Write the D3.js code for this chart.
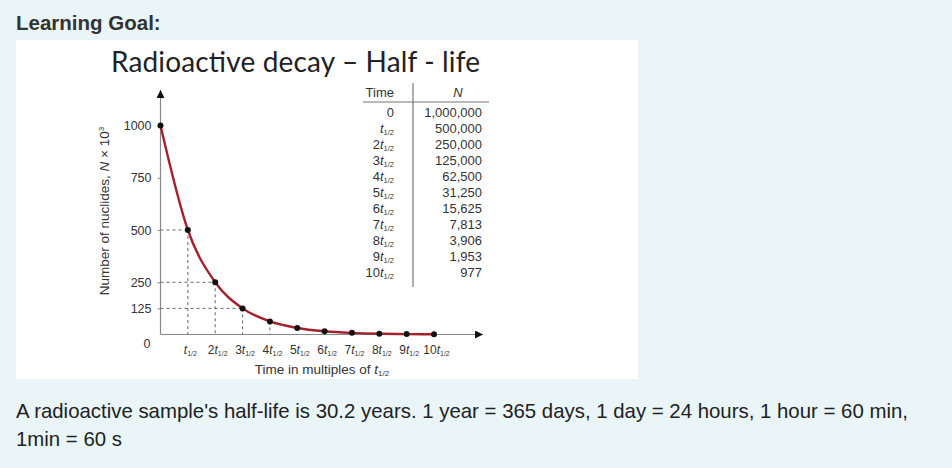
<!DOCTYPE html>
<html>
<head>
<meta charset="utf-8">
<script src="https://cdn.jsdelivr.net/npm/d3@7"></script>
<style>
  body { margin: 0; background: #e9f5f7; }
  svg { display: block; }
</style>
</head>
<body>
<svg id="chart" width="952" height="468"></svg>
<script>
// data (N in thousands vs time in half-lives)
var halfLives = [0, 1, 2, 3, 4, 5, 6, 7, 8, 9, 10];
var nuclides = [1000000, 500000, 250000, 125000, 62500, 31250, 15625, 7813, 3906, 1953, 977];
var yTicks = [0, 125, 250, 500, 750, 1000];
var timeLabels = ["0", "", "2", "3", "4", "5", "6", "7", "8", "9", "10"];
var guideSteps = [1, 2, 3];

var data = halfLives.map((t, i) => ({t: t, n: nuclides[i] / 1000}));

var svg = d3.select("#chart");
var sans = "'Liberation Sans', Arial, sans-serif";

svg.append("text")
    .attr("x", 16).attr("y", 30)
    .attr("font-family", sans).attr("font-weight", "bold")
    .attr("font-size", 20.5).attr("fill", "#333")
    .text("Learning Goal:");

// white picture box
svg.append("rect")
    .attr("x", 16).attr("y", 40)
    .attr("width", 622).attr("height", 339)
    .attr("fill", "#fff");

svg.append("text")
    .attr("x", 111).attr("y", 72)
    .attr("font-family", "Lato, sans-serif")
    .attr("font-size", 28).attr("fill", "#222")
    .attr("textLength", 369)
    .text("Radioactive decay \u2013 Half - life");

// scales
var x = d3.scaleLinear().domain([0, 10]).range([160.5, 434]);
var y = d3.scaleLinear().domain([0, 1000]).range([334.5, 125.5]);

var g = svg.append("g");

// axes
var yAxis = d3.axisLeft(y).tickValues(yTicks).tickSize(3).tickPadding(6).tickFormat(d3.format("d"));
var yg = g.append("g").attr("transform", `translate(${x(0)},0)`).call(yAxis);
yg.select(".domain").remove();
yg.selectAll("line").attr("stroke", "#888");
yg.selectAll("text").attr("font-family", sans).attr("font-size", 12.5).attr("fill", "#333");
yg.selectAll(".tick").filter(d => d === 0).select("line").remove();
yg.selectAll(".tick").filter(d => d === 0).select("text").attr("dy", "1.0em").attr("x", -10);

var xAxis = d3.axisBottom(x).tickValues(halfLives.slice(1)).tickSize(0).tickPadding(9)
    .tickFormat(() => "");
var xg = g.append("g").attr("transform", `translate(0,${y(0)})`).call(xAxis);
xg.select(".domain").remove();
xg.selectAll(".tick text").each(function(d) {
  var t = d3.select(this)
      .attr("font-family", sans).attr("font-size", 12).attr("fill", "#333")
      .attr("dy", "0.9em").attr("dx", 2);
  t.append("tspan").text(timeLabels[d]);
  t.append("tspan").attr("font-style", "italic").text("t");
  t.append("tspan").attr("font-size", 7).attr("dy", 2).text("1/2");
});

// axis lines with arrows
svg.append("defs").append("marker")
    .attr("id", "arrow").attr("viewBox", "0 0 10 10")
    .attr("refX", 10).attr("refY", 5)
    .attr("markerWidth", 10).attr("markerHeight", 8)
    .attr("markerUnits", "userSpaceOnUse")
    .attr("orient", "auto")
  .append("path").attr("d", "M0,0L10,5L0,10Z").attr("fill", "#111");

g.append("line")
    .attr("x1", x(0)).attr("x2", x(0))
    .attr("y1", y(0)).attr("y2", 90)
    .attr("stroke", "#888").attr("stroke-width", 1.2)
    .attr("marker-end", "url(#arrow)");
g.append("line")
    .attr("x1", x(0)).attr("x2", 483)
    .attr("y1", y(0)).attr("y2", y(0))
    .attr("stroke", "#888").attr("stroke-width", 1.2)
    .attr("marker-end", "url(#arrow)");

// dashed guides
var dash = g.append("g").attr("stroke", "#666").attr("stroke-width", 1)
    .attr("stroke-dasharray", "3,3");
guideSteps.forEach(function(i) {
  dash.append("line")
      .attr("x1", x(0)).attr("x2", x(data[i].t))
      .attr("y1", y(data[i].n)).attr("y2", y(data[i].n));
});
[1, 2, 3, 4].forEach(function(i) {
  dash.append("line")
      .attr("x1", x(data[i].t)).attr("x2", x(data[i].t))
      .attr("y1", y(data[i].n)).attr("y2", y(0));
});

// curve
var line = d3.line().x(d => x(d.t)).y(d => y(d.n)).curve(d3.curveMonotoneX);
g.append("path")
    .datum(data)
    .attr("d", line)
    .attr("fill", "none")
    .attr("stroke", "#a1212c")
    .attr("stroke-width", 2.4);

g.selectAll(".dot")
    .data(data)
  .enter().append("circle")
    .attr("cx", d => x(d.t))
    .attr("cy", d => y(d.n))
    .attr("r", 3)
    .attr("fill", "#111");

// axis titles
var xt = g.append("text")
    .attr("x", 322).attr("y", 374)
    .attr("text-anchor", "middle")
    .attr("font-family", sans).attr("font-size", 13.5).attr("fill", "#333");
xt.append("tspan").text("Time in multiples of ");
xt.append("tspan").attr("font-style", "italic").text("t");
xt.append("tspan").attr("font-size", 8).attr("dy", 2).text("1/2");

var yt = g.append("text")
    .attr("transform", "translate(109,211) rotate(-90)")
    .attr("text-anchor", "middle")
    .attr("font-family", sans).attr("font-size", 13.5).attr("fill", "#333");
yt.append("tspan").text("Number of nuclides, ");
yt.append("tspan").attr("font-style", "italic").text("N");
yt.append("tspan").text(" \u00d7 10");
yt.append("tspan").attr("font-size", 8).attr("dy", -5).text("3");

// table
var table = g.append("g").attr("font-family", sans).attr("font-size", 13).attr("fill", "#333");
table.append("line").attr("x1", 413).attr("x2", 413).attr("y1", 83).attr("y2", 287)
    .attr("stroke", "#777").attr("stroke-width", 1.2);
table.append("line").attr("x1", 363).attr("x2", 489).attr("y1", 102).attr("y2", 102)
    .attr("stroke", "#777").attr("stroke-width", 1.2);
table.append("text").attr("x", 394).attr("y", 97).attr("text-anchor", "end").text("Time");
table.append("text").attr("x", 458).attr("y", 97).attr("text-anchor", "middle")
    .attr("font-style", "italic").text("N");

var rowY = d3.scaleLinear().domain([0, 10]).range([117, 277]);
data.forEach(function(d, i) {
  var tt = table.append("text").attr("x", 394).attr("y", rowY(d.t)).attr("text-anchor", "end");
  if (d.t === 0) {
    tt.text("0");
  } else {
    tt.append("tspan").text(timeLabels[d.t]);
    tt.append("tspan").attr("font-style", "italic").text("t");
    tt.append("tspan").attr("font-size", 7.5).attr("dy", 2).text("1/2");
  }
  table.append("text").attr("x", 482).attr("y", rowY(d.t)).attr("text-anchor", "end")
      .text(d3.format(",")(nuclides[i]));
});

// caption
var cap = svg.append("g").attr("font-family", sans).attr("font-size", 20.4).attr("fill", "#222");
cap.append("text").attr("x", 16).attr("y", 418)
    .text("A radioactive sample's half-life is 30.2 years. 1 year = 365 days, 1 day = 24 hours, 1 hour = 60 min,");
cap.append("text").attr("x", 16).attr("y", 446).text("1min = 60 s");
</script>
</body>
</html>
